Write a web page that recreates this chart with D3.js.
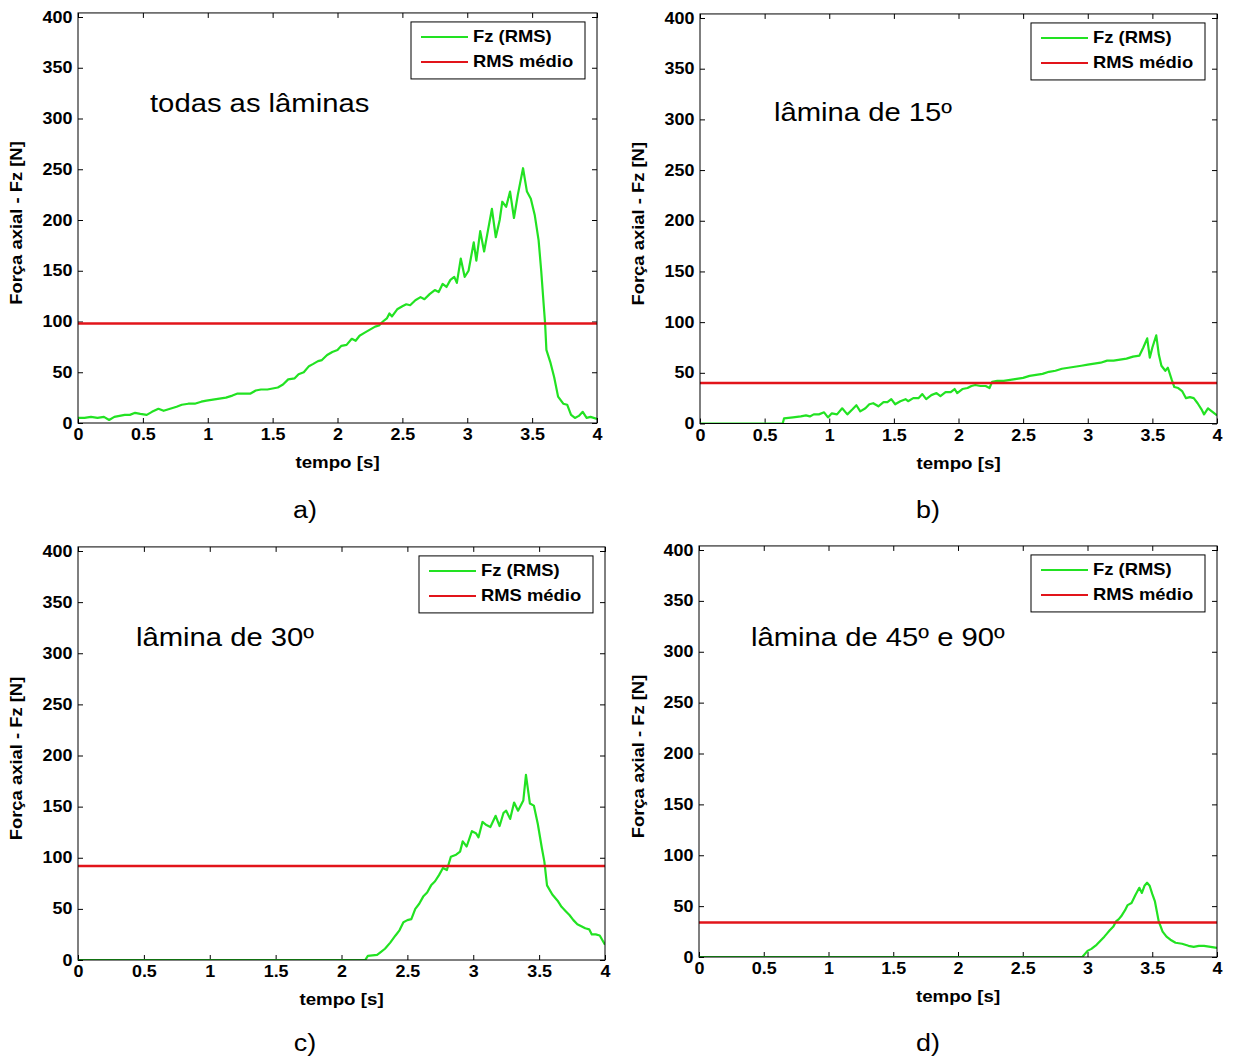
<!DOCTYPE html>
<html><head><meta charset="utf-8">
<script src="https://cdn.jsdelivr.net/npm/d3@7"></script>
<style>body{margin:0;background:#fff} text{font-family:"Liberation Sans",Arial,Helvetica,sans-serif;fill:#000}</style>
</head><body>
<script>
// ---------- DATA ----------
const xTicks = [0, 0.5, 1, 1.5, 2, 2.5, 3, 3.5, 4];
const xTickLabels = ["0", "0.5", "1", "1.5", "2", "2.5", "3", "3.5", "4"];
const yTicks = [0, 50, 100, 150, 200, 250, 300, 350, 400];
const yTickLabels = ["0", "50", "100", "150", "200", "250", "300", "350", "400"];
const seriesNames = ["Fz (RMS)", "RMS médio"];
const xLabel = "tempo [s]";
const yLabel = "Força axial - Fz [N]";
const panelTitles = ["todas as lâminas", "lâmina de 15º", "lâmina de 30º", "lâmina de 45º e 90º"];
const panelLetters = ["a)", "b)", "c)", "d)"];

const timeA = [0,0.05,0.1,0.15,0.2,0.24,0.28,0.32,0.36,0.4,0.44,0.48,0.53,0.57,0.62,0.66,0.71,0.76,0.8,0.85,0.9,0.95,0.99,1.04,1.09,1.14,1.19,1.23,1.28,1.33,1.37,1.41,1.46,1.5,1.54,1.58,1.62,1.67,1.7,1.74,1.78,1.81,1.85,1.88,1.92,1.96,2.0,2.03,2.07,2.11,2.14,2.17,2.21,2.25,2.29,2.32,2.35,2.38,2.4,2.42,2.46,2.5,2.53,2.56,2.6,2.64,2.67,2.71,2.75,2.78,2.81,2.84,2.87,2.9,2.92,2.95,2.98,3.01,3.05,3.07,3.1,3.13,3.16,3.19,3.22,3.25,3.27,3.3,3.33,3.36,3.39,3.43,3.46,3.49,3.52,3.55,3.57,3.59,3.6,3.61,3.64,3.67,3.7,3.74,3.77,3.8,3.83,3.86,3.89,3.92,3.95,4.0];
const fzA = [5,5,6,5,6,3,6,7,8,8,10,9,8,11,14,12,14,16,18,19,19,21,22,23,24,25,27,29,29,29,32,33,33,34,35,38,43,44,48,50,56,58,61,62,67,70,72,76,77,83,81,86,89,92,95,96,100,103,108,105,112,115,117,116,121,124,122,127,131,129,137,134,141,144,138,162,144,150,178,160,189,169,190,211,183,200,218,213,228,202,225,251,228,221,205,180,150,115,98,72,60,45,26,19,18,8,5,7,11,5,6,4];
const rmsA = 98;

const timeB = [0,0.64,0.65,0.72,0.78,0.82,0.85,0.88,0.92,0.96,0.99,1.02,1.06,1.1,1.14,1.18,1.21,1.24,1.28,1.31,1.34,1.38,1.42,1.45,1.48,1.51,1.55,1.59,1.61,1.65,1.69,1.72,1.75,1.79,1.83,1.86,1.9,1.94,1.97,1.99,2.03,2.07,2.1,2.13,2.17,2.21,2.24,2.26,2.3,2.35,2.4,2.45,2.5,2.55,2.6,2.65,2.7,2.75,2.8,2.85,2.9,2.95,3.0,3.05,3.1,3.15,3.2,3.25,3.3,3.35,3.4,3.43,3.46,3.48,3.5,3.53,3.55,3.57,3.6,3.62,3.65,3.67,3.7,3.73,3.76,3.79,3.82,3.85,3.88,3.9,3.93,3.96,4.0];
const fzB = [0,0,5,6,7,8,7,9,9,11,6,10,9,15,9,14,18,12,15,19,20,17,21,21,24,19,22,24,22,25,25,29,24,28,30,27,31,31,34,30,34,35,37,38,37,37,35,41,42,42,43,44,45,47,48,49,51,52,54,55,56,57,58,59,60,62,62,63,64,66,67,75,84,65,75,87,68,57,52,55,43,36,35,32,25,26,25,20,14,9,15,12,8];
const rmsB = 40;

const timeC = [0,2.18,2.2,2.27,2.3,2.33,2.37,2.41,2.44,2.47,2.5,2.53,2.56,2.59,2.62,2.65,2.68,2.71,2.74,2.77,2.8,2.83,2.87,2.9,2.92,2.95,2.99,3.02,3.04,3.07,3.1,3.13,3.17,3.2,3.23,3.25,3.28,3.31,3.34,3.38,3.4,3.43,3.46,3.49,3.52,3.54,3.56,3.6,3.64,3.67,3.7,3.73,3.76,3.79,3.82,3.85,3.88,3.9,3.93,3.96,4.0];
const fzC = [0,0,4,5,8,11,17,24,29,37,39,40,50,55,62,66,73,77,83,90,88,101,103,106,116,111,126,124,120,135,132,130,141,131,144,146,138,154,146,156,181,153,151,133,110,96,73,64,58,52,48,44,39,35,33,31,30,25,25,24,15];
const rmsC = 92;

const timeD = [0,2.96,3.0,3.03,3.07,3.1,3.13,3.15,3.17,3.2,3.22,3.24,3.26,3.29,3.31,3.34,3.37,3.4,3.42,3.44,3.46,3.48,3.5,3.52,3.55,3.58,3.61,3.64,3.68,3.73,3.78,3.82,3.86,3.9,3.95,4.0];
const fzD = [0,0,6,8,12,16,20,23,26,30,35,37,40,46,51,53,61,68,63,70,73,70,62,55,35,25,20,17,14,13,11,10,11,11,10,9];
const rmsD = 34;

// ---------- LAYOUT ----------
const W = 1233, H = 1059, SX = 1.12;
const GREEN = "#22e222", RED = "#e2141a";
const layouts = [
  {L:78,  R:597,  B:423,   T:17,  yl:22,  lx:305, ly:518, tx:150, ty:112},
  {L:700, R:1217, B:423.5, T:18,  yl:644, lx:928, ly:518, tx:774, ty:121},
  {L:78,  R:605,  B:960,   T:551, yl:22,  lx:305, ly:1051, tx:136, ty:646},
  {L:699, R:1217, B:957,   T:550, yl:644, lx:928, ly:1051, tx:751, ty:646}
];
const times = [timeA, timeB, timeC, timeD];
const values = [fzA, fzB, fzC, fzD];
const rms = [rmsA, rmsB, rmsC, rmsD];

const svg = d3.select("body").append("svg").attr("width", W).attr("height", H);

function stext(parent, x, y, str, size, weight, anchor, rot, sx) {
  return parent.append("text")
    .attr("transform", `translate(${x},${y})` + (rot ? ` rotate(${rot})` : "") + ` scale(${sx || SX},1)`)
    .attr("font-size", size).attr("font-weight", weight)
    .attr("text-anchor", anchor || "start").text(str);
}

layouts.forEach((c, i) => {
  const x = d3.scaleLinear().domain([0, 4]).range([c.L, c.R]);
  const y = d3.scaleLinear().domain([0, 400]).range([c.B, c.T]);
  const top = y(404);
  const g = svg.append("g");

  const cid = "clip" + i;
  g.append("clipPath").attr("id", cid).append("rect")
    .attr("x", c.L).attr("y", top).attr("width", c.R - c.L).attr("height", c.B - top);

  const fmtX = d => xTickLabels[xTicks.indexOf(d)];
  const fmtY = d => yTickLabels[yTicks.indexOf(d)];
  const ax = g.append("g").attr("transform", `translate(0,${c.B})`)
    .call(d3.axisBottom(x).tickValues(xTicks).tickSizeInner(-5).tickSizeOuter(0).tickPadding(6).tickFormat(fmtX));
  const ay = g.append("g").attr("transform", `translate(${c.L},0)`)
    .call(d3.axisLeft(y).tickValues(yTicks).tickSizeInner(-5).tickSizeOuter(0).tickPadding(5).tickFormat(fmtY));
  const at = g.append("g").attr("transform", `translate(0,${top})`)
    .call(d3.axisTop(x).tickValues(xTicks).tickSizeInner(-5).tickSizeOuter(0).tickFormat(""));
  const ar = g.append("g").attr("transform", `translate(${c.R},0)`)
    .call(d3.axisRight(y).tickValues(yTicks).tickSizeInner(-5).tickSizeOuter(0).tickFormat(""));
  [ax, ay, at, ar].forEach(a => {
    a.select(".domain").remove();
    a.selectAll("line").attr("stroke", "#000");
    a.selectAll("text").attr("font-size", 16).attr("font-weight", "bold")
      .attr("font-family", '"Liberation Sans",Arial,sans-serif').attr("fill", "#000")
      .attr("transform", `scale(${SX},1)`);
  });

  const pts = times[i].map((t, k) => [t, values[i][k]]);
  const line = d3.line().x(d => x(d[0])).y(d => y(d[1]));
  g.append("path").datum(pts).attr("d", line).attr("fill", "none")
    .attr("stroke", GREEN).attr("stroke-width", 2.2).attr("stroke-linejoin", "round")
    .attr("clip-path", `url(#${cid})`);
  g.append("line").attr("x1", x(0)).attr("x2", x(4)).attr("y1", y(rms[i])).attr("y2", y(rms[i]))
    .attr("stroke", RED).attr("stroke-width", 2.5);

  g.append("rect").attr("x", c.L).attr("y", top).attr("width", c.R - c.L).attr("height", c.B - top)
    .attr("fill", "none").attr("stroke", "#000").attr("stroke-width", 1);

  const lw = 174, lh = 57, lxp = c.R - 12 - lw, lyp = top + 9;
  const lg = g.append("g");
  lg.append("rect").attr("x", lxp).attr("y", lyp).attr("width", lw).attr("height", lh)
    .attr("fill", "#fff").attr("stroke", "#000").attr("stroke-width", 1);
  [GREEN, RED].forEach((col, k) => {
    const yy = lyp + 15 + k * 25;
    lg.append("line").attr("x1", lxp + 10).attr("x2", lxp + 57).attr("y1", yy).attr("y2", yy)
      .attr("stroke", col).attr("stroke-width", 2);
    stext(lg, lxp + 62, yy + 5.5, seriesNames[k], 16, "bold", "start", 0, 1.15);
  });

  stext(g, (c.L + c.R) / 2, c.B + 45, xLabel, 16, "bold", "middle", 0, 1.17);
  stext(g, c.yl, (y(0) + y(400)) / 2 + 3, yLabel, 16, "bold", "middle", -90, 1.15);
  stext(g, c.tx, c.ty, panelTitles[i], 25, "normal", "start", 0, 1.17);
  stext(g, c.lx, c.ly, panelLetters[i], 23, "normal", "middle", 0, 1.17);
});
</script>
</body></html>
